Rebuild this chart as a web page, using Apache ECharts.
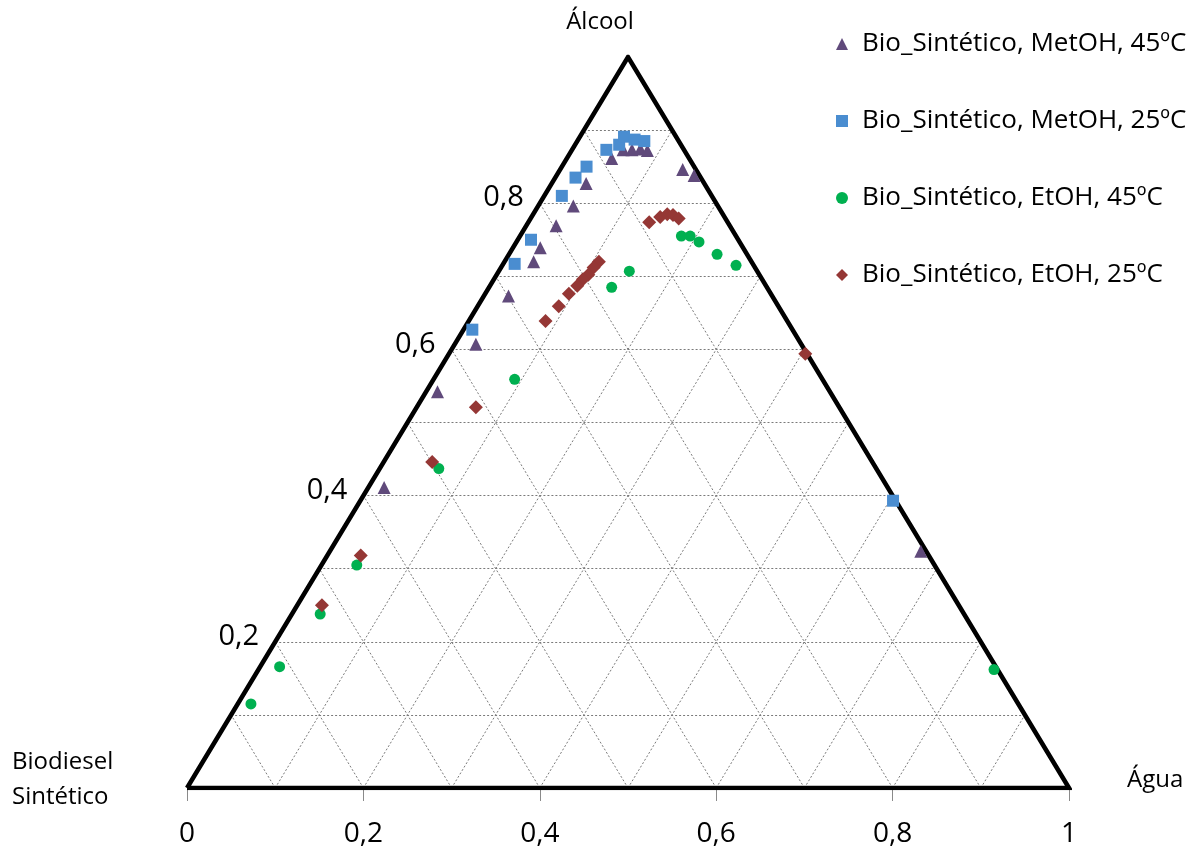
<!DOCTYPE html>
<html>
<head>
<meta charset="utf-8">
<script src="https://cdn.jsdelivr.net/npm/echarts@6/dist/echarts.min.js"></script>
<style>html,body{margin:0;padding:0;background:#fff}#c{width:1200px;height:852px}</style>
</head>
<body>
<div id="c"></div>
<script>
// Ternary compositions: [water fraction, alcohol fraction]; biodiesel = 1 - water - alcohol
const seriesNames = ['Bio_Sintético, MetOH, 45ºC','Bio_Sintético, MetOH, 25ºC','Bio_Sintético, EtOH, 45ºC','Bio_Sintético, EtOH, 25ºC'];
const metoh45 = [[0.051,0.861],[0.058,0.873],[0.068,0.873],[0.077,0.874],[0.086,0.872],[0.139,0.846],[0.156,0.838],[0.039,0.827],[0.040,0.796],[0.034,0.769],[0.031,0.739],[0.033,0.720],[0.028,0.673],[0.024,0.607],[0.013,0.542],[0.018,0.411],[0.670,0.324]];
const metoh25 = [[0.039,0.873],[0.050,0.880],[0.050,0.891],[0.064,0.887],[0.076,0.885],[0.028,0.850],[0.023,0.835],[0.020,0.810],[0.015,0.750],[0.013,0.717],[0.010,0.627],[0.604,0.393]];
const etoh45 = [[0.183,0.755],[0.193,0.755],[0.207,0.747],[0.236,0.730],[0.265,0.715],[0.148,0.707],[0.139,0.685],[0.092,0.559],[0.067,0.437],[0.040,0.305],[0.032,0.238],[0.022,0.166],[0.015,0.115],[0.834,0.162]];
const etoh25 = [[0.137,0.774],[0.146,0.781],[0.152,0.785],[0.159,0.784],[0.168,0.779],[0.107,0.720],[0.105,0.712],[0.104,0.702],[0.101,0.696],[0.099,0.687],[0.095,0.676],[0.092,0.659],[0.087,0.639],[0.067,0.521],[0.055,0.446],[0.038,0.318],[0.028,0.250],[0.404,0.594]];
const gridSteps = [0.1,0.2,0.3,0.4,0.5,0.6,0.7,0.8,0.9];
const alcoholTickLabels = [0.2,0.4,0.6,0.8];
const vertexLabels = {top:'Álcool', left:'Biodiesel\nSintético', right:'Água'};

const FONT = '"Open Sans", sans-serif';
const fmt = v => (v === 0 || v === 1) ? String(v) : v.toFixed(1).replace('.', ',');
// ternary -> plot coordinates: x = water + alcohol/2, y = alcohol
const toXY = ([w, a]) => [w + a / 2, a];

const gridLines = [];
gridSteps.forEach(t => {
  gridLines.push({coords: [[t / 2, t], [1 - t / 2, t]]});                 // constant alcohol
  gridLines.push({coords: [[t, 0], [t + (1 - t) / 2, 1 - t]]});           // constant water
  gridLines.push({coords: [[1 - t, 0], [(1 - t) / 2, 1 - t]]});           // constant biodiesel
});

const markerDefs = [
  {data: metoh45, symbol: 'triangle', size: 13, color: '#604a7b'},
  {data: metoh25, symbol: 'rect', size: 12, color: '#4a8dd0'},
  {data: etoh45, symbol: 'circle', size: 11, color: '#00b050'},
  {data: etoh25, symbol: 'diamond', size: 14, color: '#953735'}
];

const chart = echarts.init(document.getElementById('c'), null, {renderer: 'canvas'});
const series = [
  {type: 'lines', coordinateSystem: 'cartesian2d', silent: true, z: 1,
   lineStyle: {color: '#7a7a7a', width: 1, type: [2, 2], opacity: 1}, data: gridLines},
  {type: 'line', name: 'outline', silent: true, z: 3, symbol: 'none',
   lineStyle: {color: '#000', width: 4.5, join: 'miter'},
   data: [[0, 0], [0.5, 1], [1, 0], [0, 0]]},
  {type: 'scatter', name: 'alcoholLabels', silent: true, symbolSize: 0, z: 4,
   itemStyle: {opacity: 1, color: '#000'},
   data: alcoholTickLabels.map(a => [a / 2, a]),
   label: {show: true, position: 'left', distance: 16, offset: [0, -5], opacity: 1,
     formatter: p => fmt(p.value[1]), fontFamily: FONT, fontSize: 29, color: '#000'}}
];
markerDefs.forEach((m, i) => {
  series.push({type: 'scatter', name: seriesNames[i], symbol: m.symbol, symbolSize: m.size,
    itemStyle: {color: m.color, opacity: 1}, z: 5, clip: false,
    data: m.data.map(toXY)});
});

chart.setOption({
  animation: false,
  backgroundColor: '#fff',
  grid: {left: 187, right: 131, top: 57, bottom: 64, containLabel: false},
  xAxis: {type: 'value', min: 0, max: 1, interval: 0.2,
    axisLine: {show: false}, splitLine: {show: false},
    axisTick: {show: true, length: 13, lineStyle: {color: '#8a8a8a', width: 1}},
    axisLabel: {margin: 32, fontFamily: FONT, fontSize: 28, color: '#000', formatter: fmt}},
  yAxis: {type: 'value', min: 0, max: 1, show: false, splitLine: {show: false}},
  legend: {orient: 'vertical', left: 831, top: 26, itemGap: 51, itemWidth: 12, itemHeight: 12,
    data: seriesNames, selectedMode: false,
    textStyle: {fontFamily: FONT, fontSize: 26, color: '#000', padding: [0, 0, 0, 9]}},
  series: series,
  graphic: [
    {type: 'text', left: 'center', top: 10, style: {text: vertexLabels.top, font: '24px ' + FONT, fill: '#000'}},
    {type: 'text', left: 12, top: 745, style: {text: vertexLabels.left, font: '24px ' + FONT, fill: '#000', lineHeight: 35}},
    {type: 'text', left: 1127, top: 768, style: {text: vertexLabels.right, font: '24px ' + FONT, fill: '#000'}}
  ]
});
</script>
</body>
</html>
